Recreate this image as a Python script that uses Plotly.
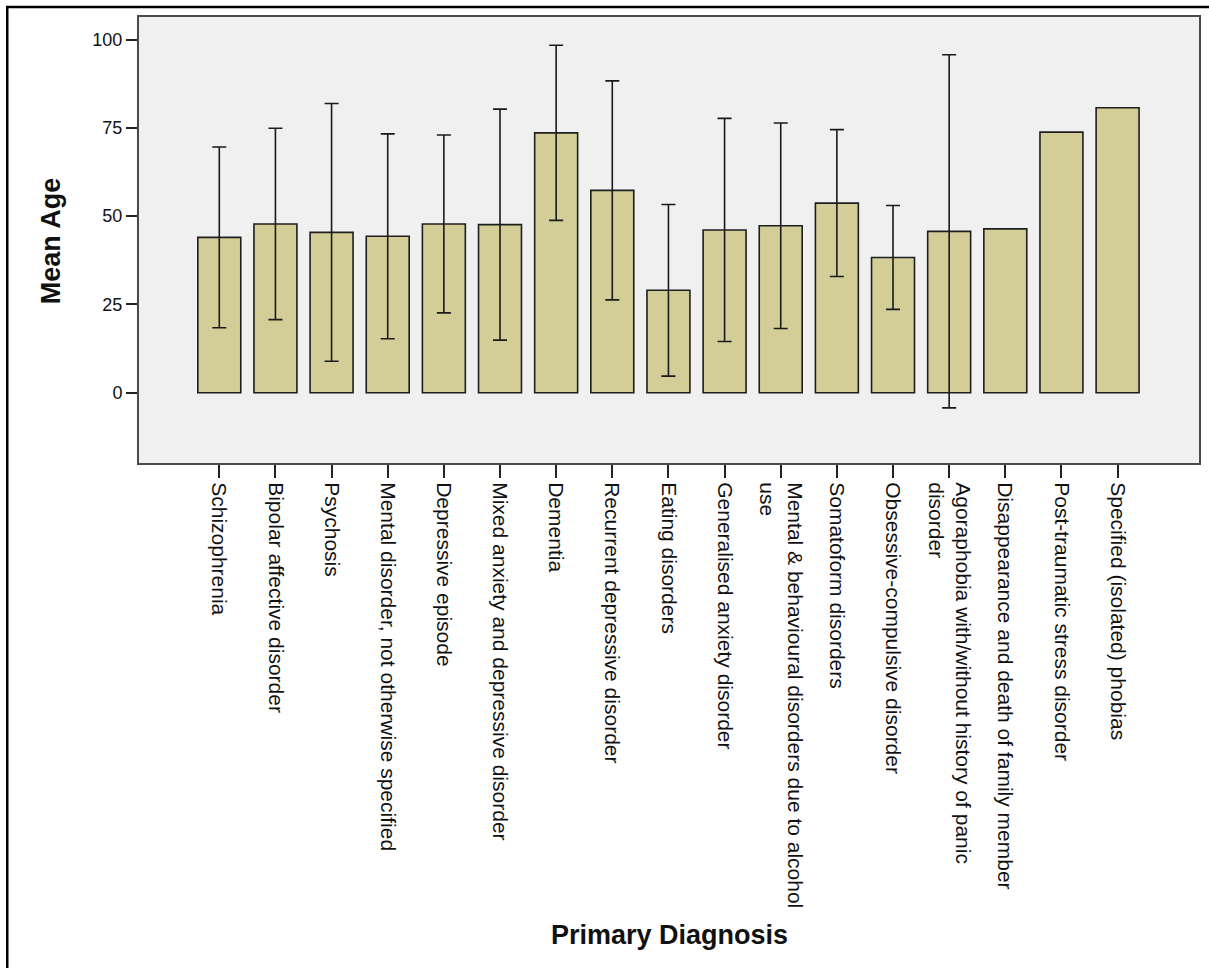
import plotly.graph_objects as go

# Primary diagnosis categories (x axis), in display order
diagnoses = [
    "Schizophrenia",
    "Bipolar affective disorder",
    "Psychosis",
    "Mental disorder, not otherwise specified",
    "Depressive episode",
    "Mixed anxiety and depressive disorder",
    "Dementia",
    "Recurrent depressive disorder",
    "Eating disorders",
    "Generalised anxiety disorder",
    "Mental & behavioural disorders due to alcohol<br>use",
    "Somatoform disorders",
    "Obsessive-compulsive disorder",
    "Agoraphobia with/without history of panic<br>disorder",
    "Disappearance and death of family member",
    "Post-traumatic stress disorder",
    "Specified (isolated) phobias",
]

# Mean age per diagnosis
mean_age = [44.0, 47.8, 45.4, 44.3, 47.8, 47.6, 73.6, 57.3, 29.0,
            46.1, 47.3, 53.7, 38.3, 45.7, 46.4, 73.8, 80.7]

# Error bar half-width (± 1 SD); None where only one case exists
error_sd = [25.6, 27.1, 36.5, 29.0, 25.2, 32.7, 24.8, 31.0, 24.3,
            31.6, 29.1, 20.8, 14.7, 50.0, None, None, None]

# Y axis ticks
y_ticks = [0, 25, 50, 75, 100]

W, H = 1209, 968
L, R, T, B = 139, 1201, 17, 463  # plot-area edges in px


def px_x(p):
    return (p - L) / (R - L)


def px_y(p):
    return (B - p) / (B - T)


positions = list(range(len(diagnoses)))

fig = go.Figure()
fig.add_trace(go.Bar(
    x=positions,
    y=mean_age,
    width=0.765,
    marker=dict(color="#D3CE97", line=dict(color="#1e1e1e", width=1.6)),
    showlegend=False,
    hoverinfo="skip",
))

# error bars only for diagnoses that have a spread
err_idx = [i for i, e in enumerate(error_sd) if e is not None]
fig.add_trace(go.Scatter(
    x=[positions[i] for i in err_idx],
    y=[mean_age[i] for i in err_idx],
    mode="markers",
    marker=dict(size=1, opacity=0),
    error_y=dict(type="data", array=[error_sd[i] for i in err_idx],
                 symmetric=True, color="#1a1a1a", thickness=1.6, width=7),
    showlegend=False,
    hoverinfo="skip",
))

font_family = "Liberation Sans, Arial, sans-serif"

fig.update_layout(
    width=W, height=H,
    margin=dict(l=L, r=W - R, t=T, b=H - B, pad=0),
    paper_bgcolor="white",
    plot_bgcolor="#F0F0F0",
    font=dict(family=font_family, color="#111"),
    xaxis=dict(
        range=[-1.43, 17.45],
        tickmode="array",
        tickvals=positions,
        ticktext=diagnoses,
        tickangle=90,
        ticks="outside", ticklen=13, tickwidth=1.5, tickcolor="#222",
        tickfont=dict(size=21, family=font_family, color="#111"),
        showline=True, linecolor="#4a4a4a", linewidth=2, mirror=True,
        showgrid=False, zeroline=False,
    ),
    yaxis=dict(
        range=[-19.9, 106.4],
        tickmode="array",
        tickvals=y_ticks,
        ticktext=[str(t) for t in y_ticks],
        ticks="outside", ticklen=11, tickwidth=1.5, tickcolor="#222",
        tickfont=dict(size=18, family=font_family, color="#111"),
        showline=True, linecolor="#4a4a4a", linewidth=2, mirror=True,
        showgrid=False, zeroline=False,
    ),
    annotations=[
        dict(text="<b>Mean Age</b>", textangle=-90, xref="paper", yref="paper",
             x=px_x(51), y=px_y(241), xanchor="center", yanchor="middle",
             showarrow=False, font=dict(size=27, family=font_family, color="#111")),
        dict(text="<b>Primary Diagnosis</b>", xref="paper", yref="paper",
             x=px_x(670), y=px_y(935), xanchor="center", yanchor="middle",
             showarrow=False, font=dict(size=27, family=font_family, color="#111")),
    ],
    shapes=[
        # outer frame around the whole chart
        dict(type="rect", xref="paper", yref="paper",
             x0=px_x(7), x1=px_x(1240), y0=px_y(1000), y1=px_y(7),
             line=dict(color="black", width=2.5), fillcolor="rgba(0,0,0,0)", layer="above"),
    ],
)

fig.write_html("out.html")
